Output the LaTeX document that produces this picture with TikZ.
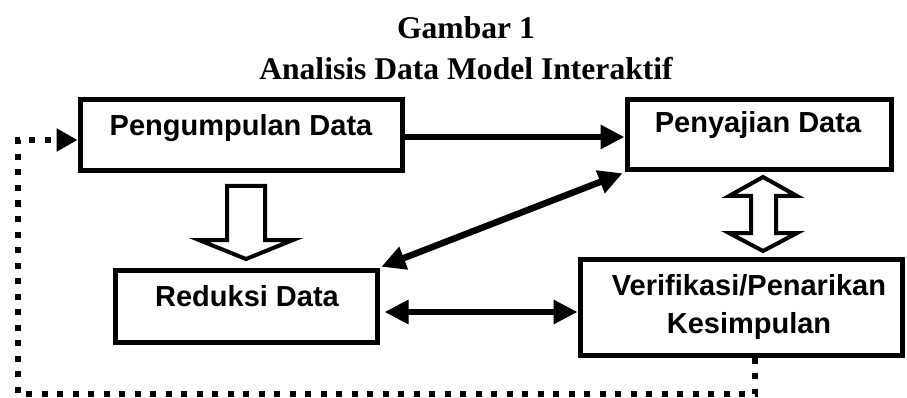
\documentclass[tikz,border=0pt]{standalone}
\usepackage{fontspec}
\setmainfont{Liberation Serif}
\newfontfamily\boxfont{Liberation Sans}
\usetikzlibrary{arrows.meta}
\begin{document}
\begin{tikzpicture}[x=1pt,y=-1pt,
  box/.style={draw, line width=5pt, inner sep=0pt},
  lbl/.style={font=\boxfont\bfseries\fontsize{29}{34}\selectfont, anchor=base, inner sep=0pt},
  ttl/.style={font=\bfseries\fontsize{31.6}{38}\selectfont, anchor=base, inner sep=0pt},
  tip/.style={Triangle[length=24pt,width=23pt]},
  flow/.style={line width=6.5pt, -{Triangle[length=24pt,width=23pt]}},
  flow2/.style={line width=6.5pt, {Triangle[length=24pt,width=23pt]}-{Triangle[length=24pt,width=23pt]}},
  hollow/.style={draw, line width=4pt, line join=miter, fill=white},
  dots/.style={line width=6pt, dash pattern=on 6pt off 9.5pt, -{Triangle[length=21pt,width=22pt]}}
]
\useasboundingbox (0,0) rectangle (907,398);

% titles
\node[ttl] (t1) at (466,39) {Gambar 1};
\node[ttl] (t2) at (466,80) {Analisis Data Model Interaktif};

% boxes
\node[box, minimum width=322pt, minimum height=71pt] (B1) at (241,135.5) {};
\node[box, minimum width=264pt, minimum height=70pt] (B2) at (759,135) {};
\node[box, minimum width=262pt, minimum height=72pt] (R) at (246,306) {};
\node[box, minimum width=322pt, minimum height=96pt] (V) at (741,307) {};

% labels
\node[lbl] (l1) at (241,136) {Pengumpulan Data};
\node[lbl] (l2) at (758,133) {Penyajian Data};
\node[lbl] (l3) at (247,306) {Reduksi Data};
\node[lbl] (l4) at (749,295) {Verifikasi/Penarikan};
\node[lbl] (l5) at (749,333) {Kesimpulan};

% helper coordinates
\coordinate (ya) at (0,137);
\coordinate (yb) at (0,312);
\coordinate (dr) at (755,394);
\coordinate (dl) at (18,394);
\coordinate (dt) at (18,140);

% solid connectors
\draw[flow] (B1.east |- ya) -- (B2.west |- ya);
\draw[flow2, shorten <=2pt, shorten >=2pt] (R.north east) -- (B2.south west);
\draw[flow2, shorten <=5pt] (R.east |- yb) -- (V.west |- yb);

% hollow block arrows
\draw[hollow] (227,186) -- (265,186) -- (265,240) -- (293,240) -- (246,259)
  -- (199,240) -- (227,240) -- cycle;
\draw[hollow] (763,177) -- (797,196) -- (776,196) -- (776,233) -- (797,233)
  -- (763,251) -- (729,233) -- (751,233) -- (751,196) -- (729,196) -- cycle;

% feedback loop
\draw[dots] (V.south -| dr) -- (dr) -- (dl) -- (dt) -- (B1.west |- dt);
\end{tikzpicture}
\end{document}
